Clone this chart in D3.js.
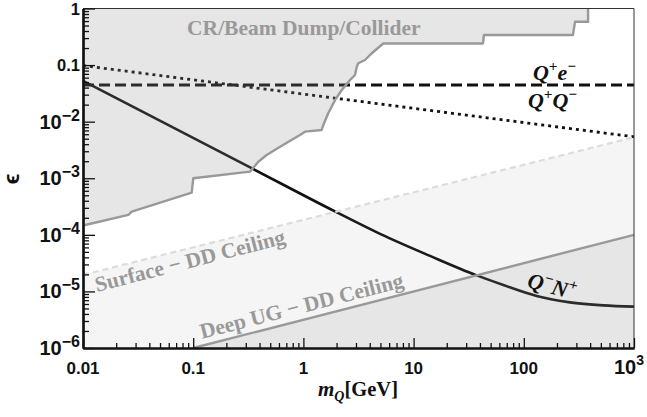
<!DOCTYPE html>
<html><head><meta charset="utf-8">
<script src="https://cdn.jsdelivr.net/npm/d3@7"></script>
<style>body{margin:0;background:#fff}svg{display:block}</style>
</head><body><svg id="c" width="647" height="417"></svg>
<script>
// ---- data ----
const massTicks = [0.01, 0.1, 1, 10, 100, 1000];
const massTickLabels = [["0.01"], ["0.1"], ["1"], ["10"], ["100"], ["10", "3"]];
const epsTicks = [1e-6, 1e-5, 1e-4, 1e-3, 1e-2, 0.1, 1];
const epsTickLabels = [["10", "−6"], ["10", "−5"], ["10", "−4"], ["10", "−3"], ["10", "−2"], ["0.1"], ["1"]];

// CR / Beam Dump / Collider excluded region boundary [mass GeV, epsilon]
const crBoundary = [
  [0.01, 1.46e-4], [0.0258, 2.25e-4], [0.0277, 2.57e-4], [0.0969, 5.57e-4], [0.1002, 1.0e-3],
  [0.328, 1.31e-3], [0.390, 1.96e-3], [0.464, 2.58e-3], [0.614, 3.61e-3], [0.931, 5.82e-3],
  [1.035, 6.66e-3], [1.466, 7.13e-3], [1.516, 8.74e-3], [1.68, 0.01407], [1.94, 0.0242],
  [2.23, 0.0363], [2.65, 0.0546], [2.94, 0.0668], [3.05, 0.0937], [3.15, 0.1076],
  [3.62, 0.123], [4.17, 0.1616], [5.31, 0.241], [42.6, 0.241], [43.5, 0.340],
  [279, 0.340], [292, 0.585], [383, 0.585], [383, 1], [0.01, 1]
];
// Q+ e- (dashed)
const qPlusEMinus = [[0.01, 0.0445], [1000, 0.0445]];
// Q+ Q- (dotted)
const qPlusQMinus = [[0.01, 0.098], [1000, 0.0054]];
// Q- N+ (solid)
const qMinusNPlus = [
  [0.01, 0.0524], [0.349, 1.46e-3], [1.935, 2.59e-4], [4.96, 1.04e-4], [14.1, 4.24e-5],
  [37.4, 1.92e-5], [65.2, 1.30e-5], [131, 8.32e-6], [262, 6.40e-6], [526, 5.66e-6], [1000, 5.38e-6]
];
// Surface - DD ceiling
const surfaceCeiling = [[0.01, 1.96e-5], [1000, 5.3e-3]];
// Deep underground - DD ceiling
const deepCeiling = [[0.1, 1e-6], [1000, 1e-4]];

// ---- scales ----
const svg = d3.select("#c");
const x = d3.scaleLog().domain([0.01, 1000]).range([83, 634]);
const y = d3.scaleLog().domain([1e-6, 1]).range([348, 8.5]);
const line = d3.line().x(d => x(d[0])).y(d => y(d[1]));
const smooth = d3.line().x(d => x(d[0])).y(d => y(d[1])).curve(d3.curveMonotoneX);

const serif = "'Liberation Serif','Times New Roman',serif";
const sans = "'Liberation Sans',Arial,Helvetica,sans-serif";

// ---- lines (below overlays) ----
svg.append("path").attr("d", smooth(qMinusNPlus))
  .attr("fill", "none").attr("stroke", "#111").attr("stroke-width", 2.6);
svg.append("path").attr("d", line(qPlusEMinus))
  .attr("fill", "none").attr("stroke", "#111").attr("stroke-width", 2.8)
  .attr("stroke-dasharray", "11,5");
svg.append("path").attr("d", line(qPlusQMinus))
  .attr("fill", "none").attr("stroke", "#111").attr("stroke-width", 2.8)
  .attr("stroke-dasharray", "3,4");

// ---- translucent regions ----
const surfRegion = surfaceCeiling.concat([[1000, 1e-6], [0.01, 1e-6]]);
svg.append("path").attr("d", line(surfRegion) + "Z")
  .attr("fill", "rgb(140,140,140)").attr("fill-opacity", 0.087);
const deepRegion = deepCeiling.concat([[1000, 1e-6]]);
svg.append("path").attr("d", line(deepRegion) + "Z")
  .attr("fill", "rgb(140,140,140)").attr("fill-opacity", 0.143);
svg.append("path").attr("d", line(crBoundary) + "Z")
  .attr("fill", "rgb(140,140,140)").attr("fill-opacity", 0.22);

// boundaries
svg.append("path").attr("d", line(surfaceCeiling))
  .attr("fill", "none").attr("stroke", "#dcdcdc").attr("stroke-width", 2.2)
  .attr("stroke-dasharray", "6,4");
svg.append("path").attr("d", line(deepCeiling))
  .attr("fill", "none").attr("stroke", "#999").attr("stroke-width", 2.4);
svg.append("path").attr("d", line(crBoundary.slice(0, crBoundary.length - 1)))
  .attr("fill", "none").attr("stroke", "#999").attr("stroke-width", 2.4)
  .attr("stroke-linejoin", "round");

// ---- frame ----
svg.append("line").attr("x1", x(0.01)).attr("x2", x(1000)).attr("y1", y(1)).attr("y2", y(1))
  .attr("stroke", "#333").attr("stroke-width", 1);
svg.append("line").attr("x1", x(1000)).attr("x2", x(1000)).attr("y1", y(1)).attr("y2", y(1e-6))
  .attr("stroke", "#333").attr("stroke-width", 1);

// ---- axes ----
const minorX = [];
for (let d = -2; d < 3; d++) for (let k = 2; k <= 9; k++) minorX.push(k * Math.pow(10, d));
const minorY = [];
for (let d = -6; d < 0; d++) for (let k = 2; k <= 9; k++) minorY.push(k * Math.pow(10, d));

const gx = svg.append("g").attr("transform", `translate(0,${y(1e-6)})`);
gx.call(d3.axisBottom(x).tickValues(massTicks).tickSizeInner(-10).tickSizeOuter(0).tickFormat(""));
const gx2 = svg.append("g").attr("transform", `translate(0,${y(1e-6)})`);
gx2.call(d3.axisBottom(x).tickValues(minorX).tickSizeInner(-5).tickSizeOuter(0).tickFormat(""));
const gy = svg.append("g").attr("transform", `translate(${x(0.01)},0)`);
gy.call(d3.axisLeft(y).tickValues(epsTicks).tickSizeInner(-12).tickSizeOuter(0).tickFormat(""));
const gy2 = svg.append("g").attr("transform", `translate(${x(0.01)},0)`);
gy2.call(d3.axisLeft(y).tickValues(minorY).tickSizeInner(-6).tickSizeOuter(0).tickFormat(""));
svg.selectAll(".domain").attr("stroke", "#111").attr("stroke-width", 2.2);
svg.selectAll(".tick line").attr("stroke", "#111").attr("stroke-width", 1.3);

// x tick labels
massTicks.forEach((v, i) => {
  const lab = massTickLabels[i];
  const t = svg.append("text").attr("x", x(v)).attr("y", 374)
    .attr("text-anchor", "middle").attr("font-family", sans).attr("font-weight", "bold")
    .attr("fill", "#111");
  if (lab.length === 1) {
    t.attr("font-size", 17).text(lab[0]);
  } else {
    t.attr("x", x(v) - 5);
    t.append("tspan").attr("font-size", 20).text(lab[0]);
    t.append("tspan").attr("font-size", 14).attr("dy", -9).text(lab[1]);
  }
});
// y tick labels
epsTicks.forEach((v, i) => {
  const lab = epsTickLabels[i];
  const t = svg.append("text").attr("x", 80).attr("text-anchor", "end")
    .attr("font-family", sans).attr("font-weight", "bold").attr("fill", "#111");
  if (lab.length === 1) {
    t.attr("y", y(v) + 6).attr("font-size", 16.5).text(lab[0]);
  } else {
    t.attr("y", y(v) + 7);
    t.append("tspan").attr("font-size", 20).text(lab[0]);
    t.append("tspan").attr("font-size", 16).attr("dy", -8).text(lab[1]);
  }
});

// axis titles
const xt = svg.append("text").attr("x", 318).attr("y", 396)
  .attr("font-family", serif).attr("font-weight", "bold").attr("fill", "#111");
xt.append("tspan").attr("font-style", "italic").attr("font-size", 21).text("m");
xt.append("tspan").attr("font-style", "italic").attr("font-size", 14).attr("dy", 5).text("Q");
xt.append("tspan").attr("font-size", 20.5).attr("dy", -5).text("[GeV]");

svg.append("text").attr("transform", "translate(19,179) rotate(-90)")
  .attr("text-anchor", "middle").attr("font-family", sans).attr("font-weight", "bold")
  .attr("font-size", 22).attr("fill", "#111").text("ϵ");

// ---- annotations ----
svg.append("text").attr("x", x(0.088)).attr("y", y(0.34))
  .attr("font-family", serif).attr("font-weight", "bold").attr("font-size", 21.5)
  .attr("fill", "#999").text("CR/Beam Dump/Collider");

function qLabel(parts, m, e, rot) {
  const t = svg.append("text")
    .attr("transform", `translate(${x(m)},${y(e)}) rotate(${rot})`)
    .attr("font-family", serif).attr("font-weight", "bold").attr("font-style", "italic")
    .attr("fill", "#111");
  parts.forEach(p => {
    const s = t.append("tspan").text(p[0]);
    if (p[1] === "sup") s.attr("font-size", 15).attr("dy", -9);
    else s.attr("font-size", 22).attr("dy", p[2] || 0);
  });
}
qLabel([["Q", "n"], ["+", "sup"], ["e", "n", 9], ["−", "sup"]], 121, 0.0546, 0);
qLabel([["Q", "n"], ["+", "sup"], ["Q", "n", 9], ["−", "sup"]], 109, 0.0175, 0);
qLabel([["Q", "n"], ["−", "sup"], ["N", "n", 9], ["+", "sup"]], 105, 1.2e-5, 15);

svg.append("text")
  .attr("transform", `translate(${x(0.0134)},${y(9.8e-6)}) rotate(-14.4)`)
  .attr("font-family", serif).attr("font-weight", "bold").attr("font-size", 21.5)
  .attr("fill", "#999").text("Surface − DD Ceiling");
svg.append("text")
  .attr("transform", `translate(${x(0.12)},${y(1.45e-6)}) rotate(-14.4)`)
  .attr("font-family", serif).attr("font-weight", "bold").attr("font-size", 21.5)
  .attr("fill", "#999").text("Deep UG − DD Ceiling");
</script>
</body></html>
